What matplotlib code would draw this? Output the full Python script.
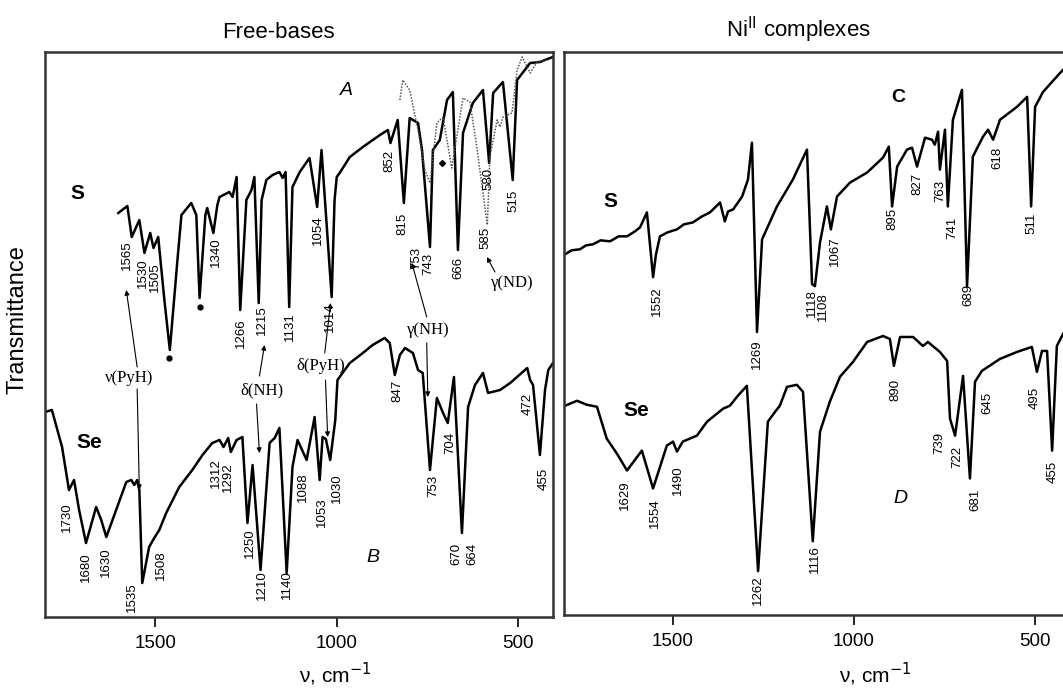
import numpy as np
import matplotlib.pyplot as plt

plt.rcParams['font.family'] = ['Liberation Sans', 'DejaVu Sans']

# ---- spectra (wavenumber, transmittance in arbitrary units) ----
# A: free base, S (solid)
a_wn = [1602, 1577, 1565, 1544, 1530, 1514, 1505, 1492, 1475, 1460, 1439, 1428, 1401, 1387,
        1378, 1362, 1357, 1340, 1329, 1323, 1296, 1287, 1276, 1266, 1249, 1235, 1227, 1215,
        1207, 1194, 1177, 1158, 1149, 1141, 1131, 1122, 1102, 1075, 1054, 1042, 1014, 1006,
        1000, 992, 964, 928, 881, 859, 852, 832, 815, 799, 776, 765, 743, 735, 716, 696, 680,
        666, 652, 625, 597, 580, 569, 542, 515, 503, 467, 440, 412, 404]
a_t = [404, 411, 380, 397, 364, 384, 369, 380, 317, 267, 357, 402, 414, 402,
       319, 402, 409, 384, 412, 420, 425, 420, 440, 307, 417, 427, 440, 314,
       417, 437, 442, 445, 439, 445, 310, 430, 445, 459, 410, 467, 320, 417,
       440, 444, 460, 470, 482, 487, 474, 497, 414, 499, 494, 467, 370, 467, 477, 517, 525,
       367, 484, 514, 527, 454, 524, 535, 437, 537, 554, 555, 559, 560]

# A': deuterated free base (dotted)
ad_wn = [826, 818, 799, 776, 757, 743, 724, 707, 683, 652, 633, 614, 585, 578, 558, 550,
         542, 517, 503, 489, 467, 448, 420]
ad_t = [517, 537, 527, 487, 447, 434, 494, 500, 449, 519, 515, 470, 392, 460, 497, 490,
        500, 504, 547, 560, 544, 555, 557]

# B: free base, Se
b_wn = [1804, 1785, 1757, 1738, 1724, 1710, 1691, 1663, 1649, 1635, 1608, 1580, 1566, 1558,
        1550, 1544, 1536, 1517, 1503, 1489, 1470, 1434, 1398, 1370, 1343, 1323, 1312, 1299,
        1292, 1276, 1260, 1246, 1232, 1210, 1185, 1171, 1158, 1138, 1122, 1108, 1083, 1061,
        1047, 1039, 1030, 1018, 1004, 998, 964, 928, 901, 868, 854, 840, 826, 812, 790, 776,
        763, 743, 724, 707, 694, 677, 655, 638, 619, 597, 583, 550, 522, 475, 467, 459, 440,
        426, 417, 404]
b_t = [205, 207, 170, 127, 137, 107, 74, 110, 97, 80, 107, 135, 137, 132,
       137, 127, 34, 70, 79, 87, 104, 130, 147, 162, 174, 177, 170, 179,
       165, 177, 180, 94, 152, 47, 174, 179, 189, 44, 150, 177, 157, 200,
       137, 180, 178, 157, 197, 237, 254, 264, 272, 279, 274, 242, 262, 269, 264, 247,
       244, 147, 219, 204, 194, 240, 84, 210, 232, 244, 224, 227, 234, 249, 237, 232, 162,
       227, 247, 254]

# C: Ni complex, S
c_wn = [1798, 1780, 1757, 1740, 1721, 1700, 1674, 1650, 1627, 1605, 1591, 1572, 1555, 1547,
        1536, 1515, 1489, 1470, 1445, 1420, 1398, 1370, 1357, 1348, 1334, 1309, 1293, 1282,
        1268, 1254, 1213, 1169, 1130, 1116, 1108, 1094, 1075, 1064, 1047, 1011, 964, 920,
        904, 895, 881, 854, 840, 826, 804, 785, 777, 768, 763, 749, 741, 727, 702, 688, 672,
        644, 630, 616, 597, 550, 522, 511, 500, 478, 431, 423]
c_t = [362, 366, 367, 371, 372, 376, 375, 380, 380, 385, 389, 404, 339, 362,
       380, 384, 387, 392, 394, 400, 404, 414, 395, 405, 407, 420, 437, 474,
       284, 377, 410, 437, 467, 332, 330, 374, 410, 387, 420, 434, 444, 459,
       470, 410, 450, 467, 469, 450, 479, 477, 472, 485, 447, 487, 410, 497, 527, 330, 460,
       480, 487, 477, 497, 510, 520, 410, 510, 525, 544, 547]

# D: Ni complex, Se
d_wn = [1798, 1765, 1738, 1710, 1683, 1655, 1627, 1586, 1555, 1517, 1500, 1489, 1473, 1434,
        1406, 1362, 1343, 1321, 1296, 1265, 1238, 1218, 1205, 1185, 1158, 1141, 1114, 1094,
        1067, 1039, 1003, 964, 920, 901, 890, 873, 837, 810, 796, 763, 743, 735, 721, 699,
        680, 666, 647, 597, 550, 509, 495, 481, 467, 453, 440, 423]
d_t = [210, 215, 211, 209, 177, 162, 145, 165, 127, 170, 174, 164, 174, 180,
       194, 207, 210, 220, 230, 44, 194, 204, 210, 229, 231, 224, 74, 184,
       214, 239, 254, 274, 280, 277, 250, 279, 279, 270, 274, 264, 255, 197, 180, 240,
       137, 234, 245, 257, 264, 269, 244, 265, 265, 165, 270, 282]

# ---- peak labels: (text, wavenumber position, transmittance of label top) ----
labels_left = [('1565', 1578, 377), ('1530', 1535, 359), ('1505', 1500, 355), ('1340', 1332, 380),
               ('1266', 1263, 299), ('1215', 1207, 312), ('1131', 1130, 305), ('1054', 1053, 402),
               ('1014', 1020, 315), ('852', 854, 467), ('815', 818, 404), ('753', 781, 370),
               ('743', 747, 364), ('666', 666, 360), ('585', 591, 390), ('580', 583, 449),
               ('515', 514, 427),
               ('1730', 1743, 115), ('1680', 1691, 65), ('1630', 1635, 70), ('1535', 1564, 35),
               ('1508', 1484, 67), ('1312', 1332, 159), ('1292', 1300, 155), ('1250', 1240, 89),
               ('1210', 1205, 47), ('1140', 1136, 47), ('1088', 1094, 145), ('1053', 1042, 120),
               ('1030', 1000, 144), ('847', 834, 237), ('753', 735, 142), ('704', 688, 185),
               ('670', 671, 74), ('664', 627, 74), ('472', 473, 224), ('455', 431, 149)]
labels_right = [('1552', 1544, 330), ('1269', 1268, 277), ('1118', 1116, 327), ('1108', 1086, 324),
                ('1067', 1053, 380), ('895', 893, 409), ('827', 826, 444), ('763', 763, 437),
                ('741', 730, 400), ('689', 685, 332), ('618', 605, 470), ('511', 509, 404),
                ('1629', 1633, 135), ('1554', 1550, 117), ('1490', 1486, 150), ('1262', 1265, 40),
                ('1116', 1108, 70), ('890', 887, 237), ('739', 765, 184), ('722', 714, 170),
                ('681', 666, 127), ('645', 633, 224), ('495', 500, 229), ('455', 451, 155)]

asterisks = [(1461, 259), (1376, 310)]
diamonds = [(710, 454)]

fig = plt.figure(figsize=(10.63, 6.89), dpi=100)
axL = fig.add_axes([45 / 1063, 72 / 689, 508 / 1063, 565 / 689])
axR = fig.add_axes([564 / 1063, 74 / 689, 499 / 1063, 563 / 689])

axL.plot(a_wn, a_t, color='black', lw=1.8)
axL.plot(ad_wn, ad_t, color='#555555', lw=1.1, ls=(0, (1, 1)))
axL.plot(b_wn, b_t, color='black', lw=1.8)
axR.plot(c_wn, c_t, color='black', lw=1.8)
axR.plot(d_wn, d_t, color='black', lw=1.8)

axL.plot([p[0] for p in asterisks], [p[1] for p in asterisks], 'o', color='black', ms=3.5)
axL.plot([p[0] for p in diamonds], [p[1] for p in diamonds], 'D', color='black', ms=3)

for ax, labs in ((axL, labels_left), (axR, labels_right)):
    for txt, x, y in labs:
        ax.text(x, y, txt, rotation=90, ha='center', va='top', fontsize=9.5)

# curve / panel names
axL.text(1716, 424, 'S', fontsize=15, fontweight='bold', ha='center', va='center')
axL.text(1682, 174, 'Se', fontsize=15, fontweight='bold', ha='center', va='center')
axL.text(973, 527, 'A', fontsize=14, style='italic', ha='center', va='center')
axL.text(901, 60, 'B', fontsize=14, style='italic', ha='center', va='center')
axR.text(1674, 415, 'S', fontsize=15, fontweight='bold', ha='center', va='center')
axR.text(1600, 205, 'Se', fontsize=15, fontweight='bold', ha='center', va='center')
axR.text(879, 519, 'C', fontsize=14, fontweight='bold', ha='center', va='center')
axR.text(873, 117, 'D', fontsize=14, style='italic', ha='center', va='center')

# assignments with arrows
serif = ['Liberation Serif', 'DejaVu Serif']
axL.text(1572, 239, 'ν(PyH)', family=serif, fontsize=12, ha='center', va='center')
axL.text(1207, 227, 'δ(NH)', family=serif, fontsize=12, ha='center', va='center')
axL.text(1045, 251, 'δ(PyH)', family=serif, fontsize=12, ha='center', va='center')
axL.text(749, 287, 'γ(NH)', family=serif, fontsize=12, ha='center', va='center')
axL.text(517, 334, 'γ(ND)', family=serif, fontsize=12, ha='center', va='center')

arrows = [((1550, 250), (1580, 327)), ((1550, 228), (1544, 127)),
          ((1213, 241), (1199, 272)), ((1221, 213), (1213, 164)),
          ((1033, 264), (1017, 314)), ((1031, 237), (1025, 180)),
          ((752, 300), (793, 354)), ((752, 274), (749, 220)),
          ((564, 345), (586, 360))]
for start, end in arrows:
    axL.annotate('', xy=end, xytext=start,
                 arrowprops=dict(arrowstyle='-|>', color='black', lw=0.8, mutation_scale=7,
                                 shrinkA=0, shrinkB=0))

axL.set_xlim(1804, 404)
axR.set_xlim(1801, 423)
for ax in (axL, axR):
    ax.set_ylim(0, 565)
    ax.set_yticks([])
    ax.set_xticks([1500, 1000, 500])
    ax.tick_params(axis='x', direction='out', length=7, width=1.2, labelsize=13.5, pad=6)
    for s in ax.spines.values():
        s.set_linewidth(1.8)
        s.set_color('#333333')
axR.spines['right'].set_visible(False)

fig.text(278 / 1063, 1 - 33 / 689, 'Free-bases', fontsize=16, ha='center', va='center')
fig.text(798 / 1063, 1 - 30 / 689, 'Ni$^{\\mathrm{II}}$ complexes', fontsize=16, ha='center', va='center')
fig.text(18 / 1063, 1 - 320 / 689, 'Transmittance', fontsize=17, rotation=90, ha='center', va='center')
fig.text(335 / 1063, 1 - 674 / 689, 'ν, cm$^{-1}$', fontsize=15, ha='center', va='center')
fig.text(875 / 1063, 1 - 674 / 689, 'ν, cm$^{-1}$', fontsize=15, ha='center', va='center')

fig.savefig('out.png', dpi=100)
